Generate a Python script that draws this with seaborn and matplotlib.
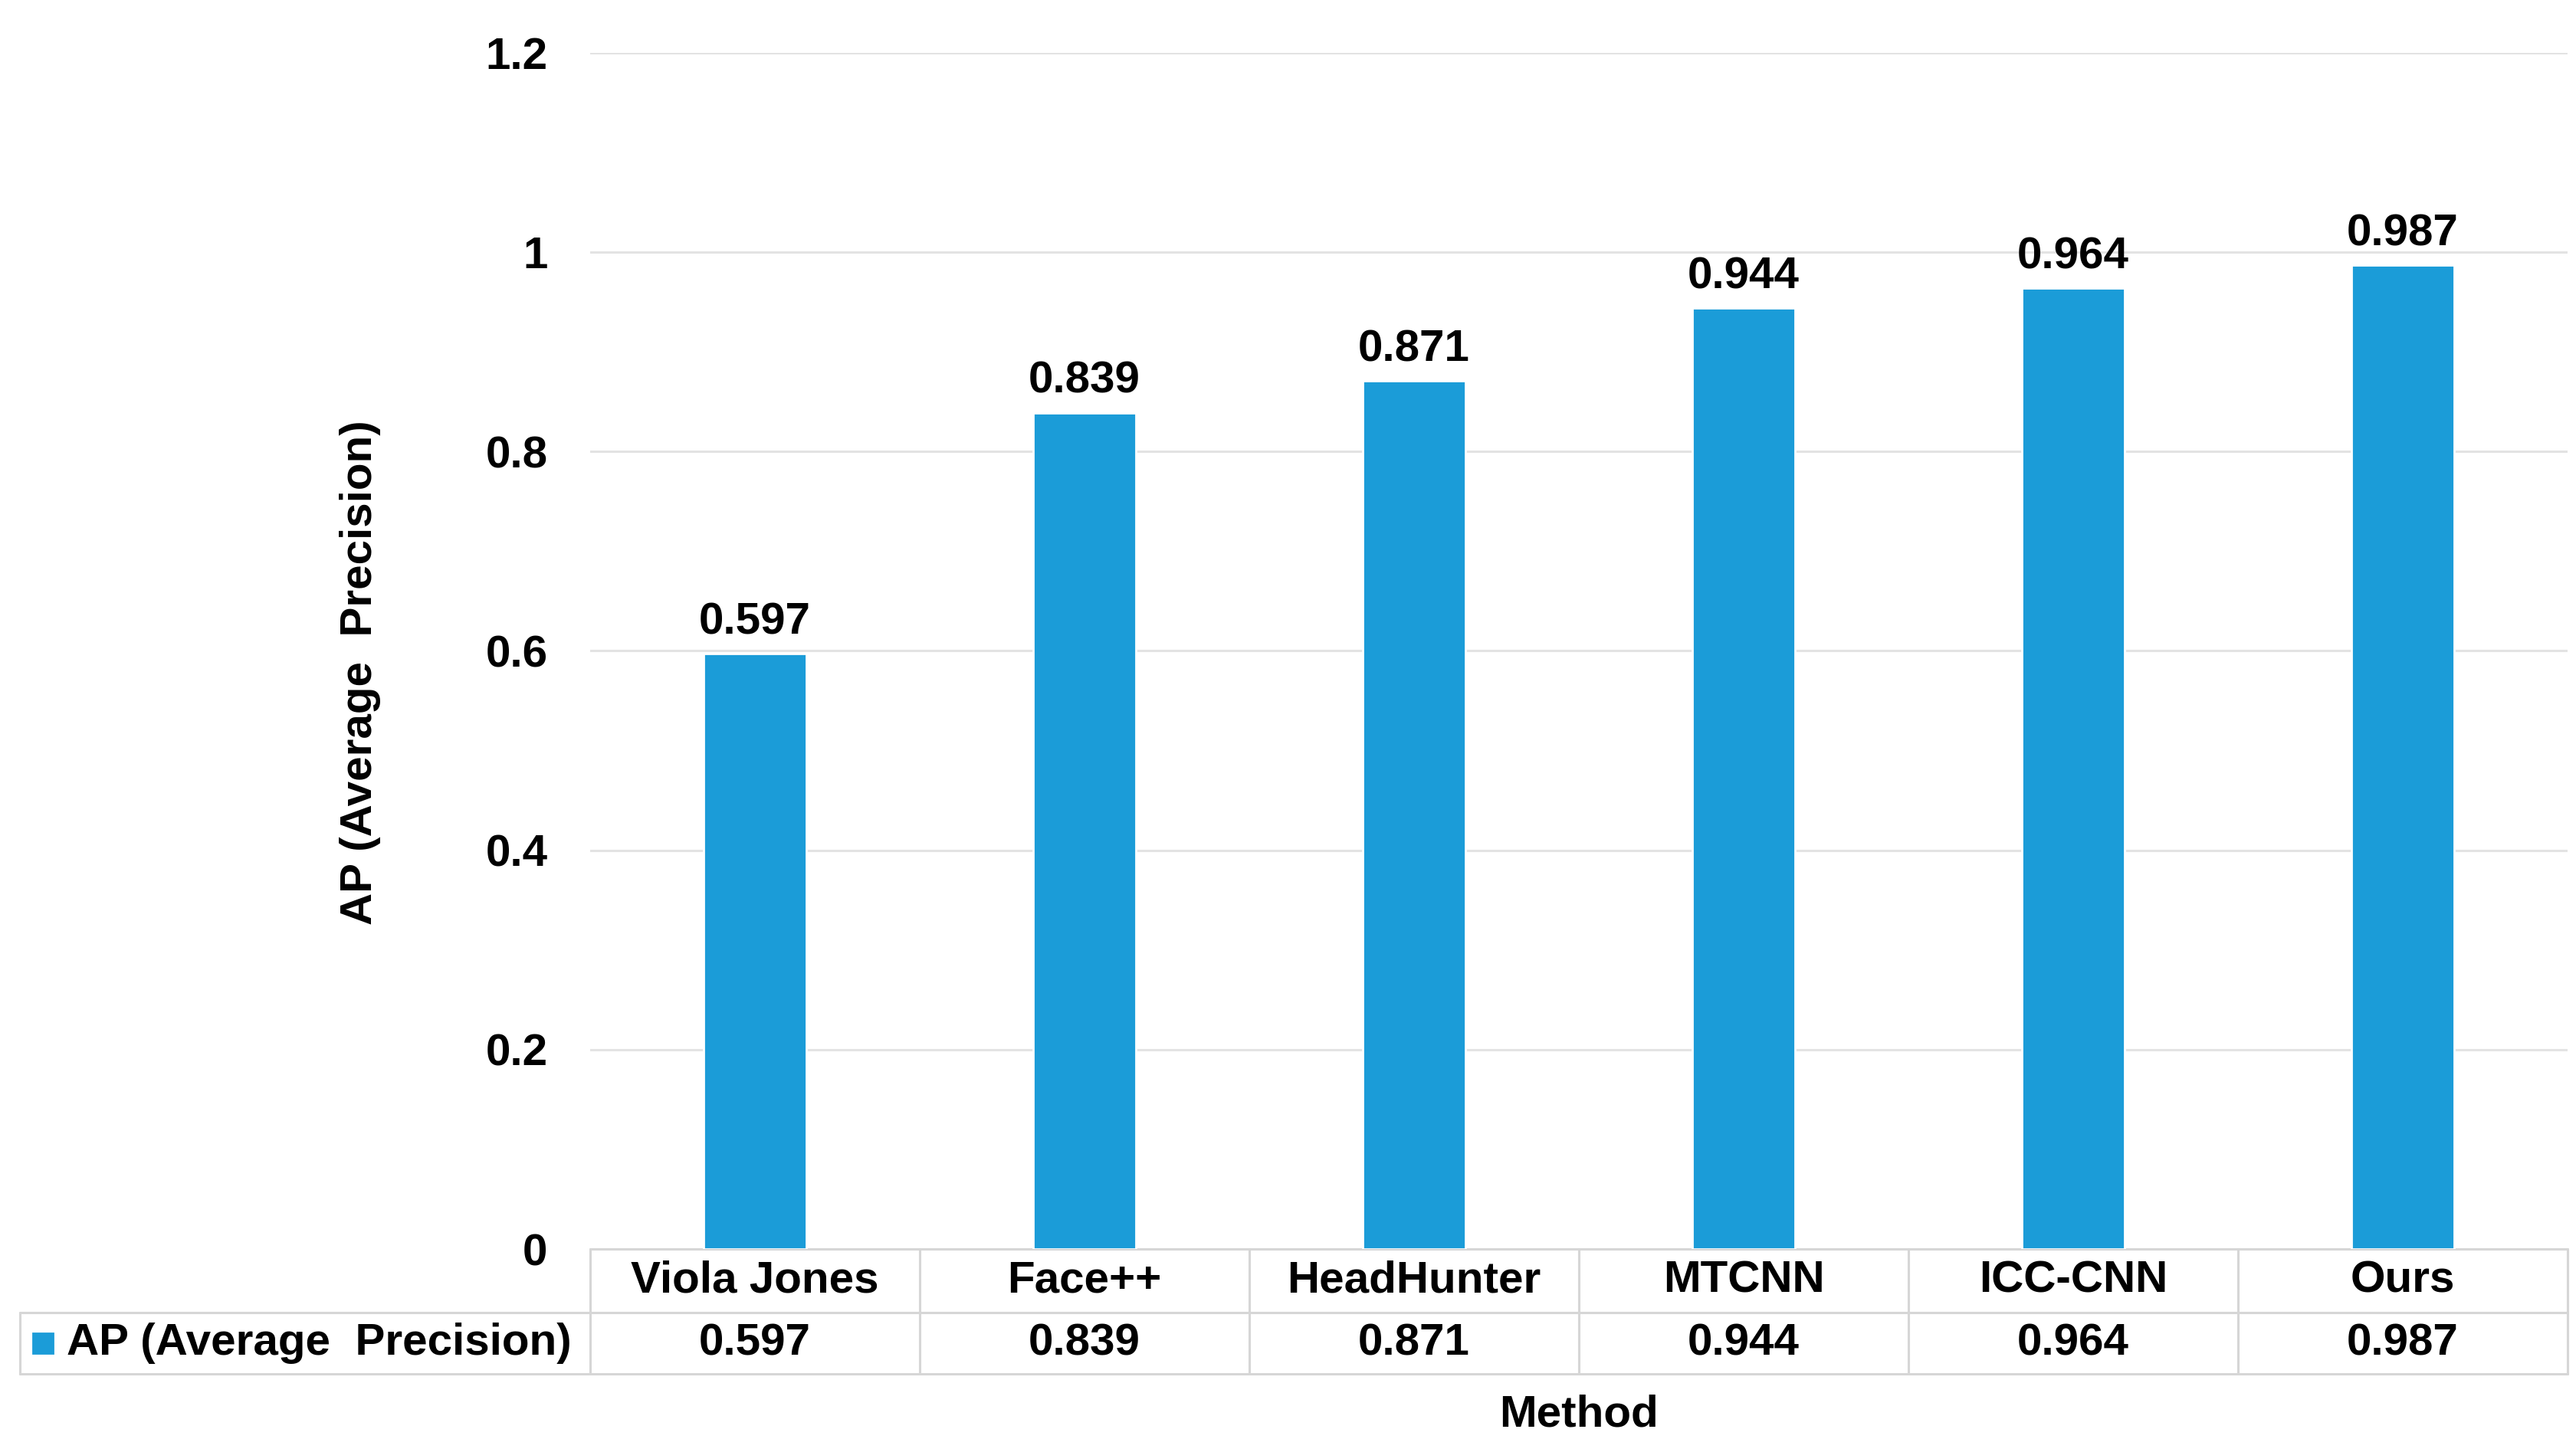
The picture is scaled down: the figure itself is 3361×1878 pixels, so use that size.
import matplotlib
matplotlib.use("Agg")
import matplotlib.pyplot as plt
import matplotlib.transforms as mtransforms
from matplotlib.patches import Rectangle
import seaborn as sns
import pandas as pd

methods = ["Viola Jones", "Face++", "HeadHunter", "MTCNN", "ICC-CNN", "Ours"]
ap_values = [0.597, 0.839, 0.871, 0.944, 0.964, 0.987]
series_name = "AP (Average  Precision)"
y_ticks = [0, 0.2, 0.4, 0.6, 0.8, 1.0, 1.2]
y_tick_labels = ["0", "0.2", "0.4", "0.6", "0.8", "1", "1.2"]

BAR_COLOR = "#1b9cd8"
GRID_COLOR = "#e3e3e3"
TABLE_COLOR = "#d6d6d6"

sns.set_theme(style="white")
plt.rcParams["font.family"] = ["Liberation Sans", "DejaVu Sans"]
plt.rcParams["font.weight"] = "bold"
plt.rcParams["text.color"] = "black"
plt.rcParams["axes.labelcolor"] = "black"
plt.rcParams["ytick.color"] = "black"
FS = 21

df = pd.DataFrame({"Method": methods, "AP": ap_values})

fig = plt.figure(figsize=(3361 / 200, 1878 / 200), dpi=200)
ax = fig.add_axes([770 / 3361, 1 - 1630 / 1878, 2580 / 3361, 1561 / 1878])

sns.barplot(data=df, x="Method", y="AP", color=BAR_COLOR, width=0.31,
            saturation=1, ax=ax, zorder=3)

ax.set_ylim(0, 1.2)
ax.set_xlim(-0.5, len(methods) - 0.5)
ax.set_yticks(y_ticks)
ax.set_yticklabels(y_tick_labels, fontsize=FS, fontweight="bold", color="black")
ax.tick_params(axis="y", length=0, pad=20)
ax.set_xticks([])
for y in y_ticks[1:]:
    ax.axhline(y, color=GRID_COLOR, lw=1.1, zorder=0)
for s in ax.spines.values():
    s.set_visible(False)

# value labels
for i, v in enumerate(ap_values):
    ax.annotate(f"{v:.3f}", (i, v), xytext=(0, 5), textcoords="offset points",
                ha="center", va="bottom", fontsize=FS, fontweight="bold",
                color="black")

ax.set_ylabel(series_name, fontsize=FS, fontweight="bold", color="black")
ax.yaxis.set_label_coords(-0.106, 0.482)
ax.set_xlabel("")

# data table below the axes
trans = mtransforms.blended_transform_factory(ax.transData, ax.transAxes)
y_top, y_mid, y_bot = 0.0, -0.0532, -0.1044
x_left_tab = -0.2884
lkw = dict(color=TABLE_COLOR, lw=1.1, clip_on=False, zorder=1)
ax.plot([0, 1], [y_top, y_top], transform=ax.transAxes, **lkw)
ax.plot([x_left_tab, 1], [y_mid, y_mid], transform=ax.transAxes, **lkw)
ax.plot([x_left_tab, 1], [y_bot, y_bot], transform=ax.transAxes, **lkw)
ax.plot([x_left_tab, x_left_tab], [y_mid, y_bot], transform=ax.transAxes, **lkw)
for k in range(len(methods) + 1):
    xb = k - 0.5
    ax.plot([xb, xb], [y_top, y_bot], transform=trans, **lkw)

for i, (m, v) in enumerate(zip(methods, ap_values)):
    ax.text(i, -0.0269, m, transform=trans, ha="center", va="center",
            fontsize=FS, fontweight="bold", color="black")
    ax.text(i, -0.079, f"{v:.3f}", transform=trans, ha="center", va="center",
            fontsize=FS, fontweight="bold", color="black")

# legend key + row label
sq_w = 26 / 2580
sq_h = 26 / 1561
ax.add_patch(Rectangle((-0.2767 - sq_w / 2, -0.079 - sq_h / 2), sq_w, sq_h,
                       transform=ax.transAxes, color=BAR_COLOR, clip_on=False))
ax.text(-0.2647, -0.079, series_name, transform=ax.transAxes, ha="left",
        va="center", fontsize=FS, fontweight="bold", color="black")

ax.text(0.5, -0.139, "Method", transform=ax.transAxes, ha="center",
        va="center", fontsize=FS, fontweight="bold", color="black")

fig.savefig("out.png", dpi=200, facecolor="white")
